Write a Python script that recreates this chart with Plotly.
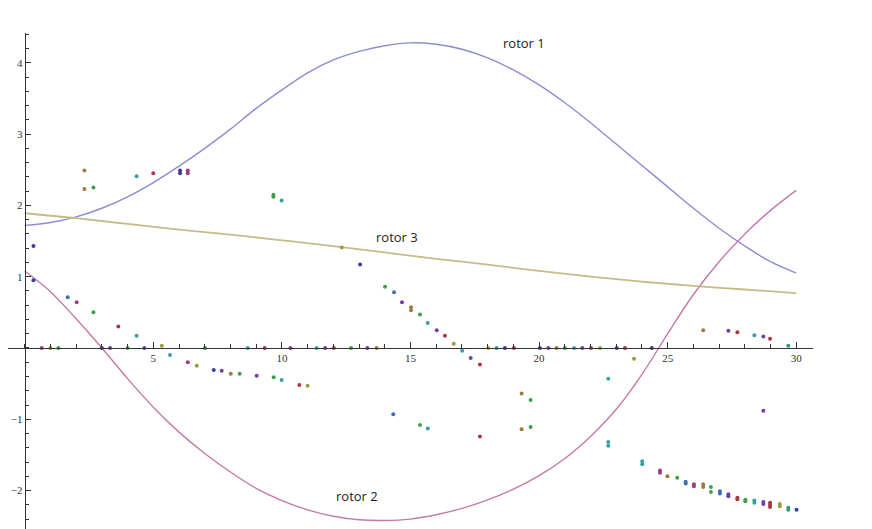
import plotly.graph_objects as go

# --- rotor angle curves (time in seconds, angle in radians) ---
t_curve = list(range(0, 31))
rotor1 = [1.72, 1.76, 1.84, 1.96, 2.12, 2.32, 2.55, 2.80, 3.07, 3.36, 3.62,
          3.86, 4.04, 4.16, 4.24, 4.28, 4.26, 4.19, 4.07, 3.90, 3.69,
          3.44, 3.16, 2.86, 2.56, 2.26, 1.96, 1.68, 1.43, 1.21, 1.05]
rotor2 = [1.08, 0.79, 0.41, 0.00, -0.43, -0.83, -1.18, -1.48, -1.74, -1.97, -2.14,
          -2.27, -2.36, -2.41, -2.42, -2.40, -2.34, -2.25, -2.13, -1.98, -1.79,
          -1.55, -1.24, -0.86, -0.37, 0.20, 0.75, 1.21, 1.60, 1.93, 2.21]
t_rotor3 = [0, 2, 4, 6, 8, 10, 12, 14, 16, 18, 20, 22, 24, 26, 28, 30]
rotor3 = [1.89, 1.82, 1.74, 1.66, 1.59, 1.51, 1.43, 1.34, 1.25, 1.17, 1.08,
          1.00, 0.93, 0.87, 0.82, 0.77]

# --- sampled measurements: time, angle, series group ---
dot_t = [0.34, 0.34, 0.66, 1.0, 1.31, 1.67, 2.02, 2.32, 2.32, 2.67, 2.67,
         3.0, 3.32, 3.64, 4.0, 4.35, 4.35, 4.65, 5.0, 5.33, 5.65,
         6.04, 6.04, 6.34, 6.34, 6.34, 6.69, 7.01, 7.35, 7.66, 8.01, 8.36, 8.67,
         9.02, 9.33, 9.67, 9.67, 9.68, 9.99, 9.99, 10.33, 10.68, 11.0, 11.35,
         11.68, 12.02, 12.33, 12.69, 13.04, 13.32, 13.68, 14.01, 14.33, 14.36,
         14.67, 15.02, 15.02, 15.37, 15.37, 15.67, 15.67, 16.02, 16.34, 16.68,
         17.01, 17.34, 17.7, 17.7, 18.02, 18.35, 18.67, 19.02, 19.32, 19.32,
         19.67, 19.67, 20.03, 20.36, 20.68, 21.0, 21.36, 21.68, 22.02, 22.37,
         22.69, 22.69, 22.69, 23.02, 23.34, 23.69, 24.01, 24.01, 24.38, 24.7,
         24.7, 24.99, 25.37, 25.7, 25.7, 26.02, 26.02, 26.38, 26.38, 26.38,
         26.68, 26.68, 27.03, 27.03, 27.36, 27.36, 27.36, 27.71, 27.71, 27.71,
         28.02, 28.02, 28.37, 28.37, 28.37, 28.72, 28.72, 28.72, 28.72, 28.98,
         28.98, 28.98, 28.98, 29.36, 29.36, 29.69, 29.69, 29.69, 30.01]
dot_y = [1.43, 0.95, 0.0, 0.0, 0.0, 0.71, 0.64, 2.49, 2.23, 2.25, 0.50,
         0.0, 0.0, 0.30, 0.0, 2.41, 0.17, 0.0, 2.45, 0.03, -0.10,
         2.45, 2.49, 2.45, 2.49, -0.20, -0.25, 0.0, -0.31, -0.32, -0.36, -0.36, 0.0,
         -0.39, 0.0, 2.12, 2.15, -0.41, 2.07, -0.45, 0.0, -0.52, -0.53, 0.0,
         0.0, 0.0, 1.41, 0.0, 1.17, 0.0, 0.0, 0.86, -0.93, 0.78,
         0.64, 0.53, 0.57, 0.47, -1.08, 0.35, -1.13, 0.25, 0.17, 0.06,
         -0.04, -0.14, -0.23, -1.24, 0.0, 0.0, 0.0, 0.0, -0.64, -1.14,
         -0.73, -1.11, 0.0, 0.0, 0.0, 0.0, 0.0, 0.0, 0.0, 0.0,
         -0.43, -1.32, -1.37, 0.0, 0.0, -0.15, -1.59, -1.63, 0.0, -1.72,
         -1.75, -1.80, -1.82, -1.875, -1.90, -1.91, -1.94, 0.25, -1.91, -1.95,
         -1.95, -2.02, -2.01, -2.04, 0.24, -2.05, -2.08, 0.22, -2.10, -2.12,
         -2.13, -2.15, 0.18, -2.14, -2.17, 0.16, -0.88, -2.16, -2.19, 0.13,
         -2.17, -2.20, -2.23, -2.19, -2.22, 0.03, -2.24, -2.27, -2.27]
dot_group = ["B", "B", "M", "O", "G", "B2", "M", "Br", "Br", "G", "G",
             "B", "P", "R", "G", "T", "T", "P", "R", "O", "T",
             "B", "B", "M", "M", "M", "O", "G", "B", "P", "Br", "G", "T",
             "P", "R", "G", "G", "G", "T", "T", "P", "R", "O", "T",
             "P", "R", "O", "G", "B", "P", "Br", "G", "B2", "B2",
             "P", "Br", "Br", "G", "G", "T", "T", "P", "R", "O",
             "T", "P", "R", "R", "O", "T", "B", "R", "Br", "Br",
             "G", "G", "B", "P", "Br", "G", "T", "P", "R", "O",
             "T", "T", "T", "B", "R", "O", "T", "T", "B", "M",
             "M", "Br", "G", "B2", "B2", "M", "M", "Br", "Br", "Br",
             "G", "G", "B2", "B2", "P", "P", "P", "R", "R", "R",
             "G", "G", "T", "T", "T", "P", "P", "P", "P", "R",
             "R", "R", "R", "O", "O", "G2", "G2", "G2", "B"]

x_ticks = [5, 10, 15, 20, 25, 30]
y_ticks = [-2, -1, 1, 2, 3, 4]

group_colors = {
    "B": "#3c3c9c", "B2": "#3f6fae", "M": "#a03c82", "R": "#a83848",
    "Br": "#a07840", "O": "#9c9c3c", "G": "#3ea048", "G2": "#2f9a78",
    "T": "#3aa0a6", "P": "#7040a8",
}

x_range = [-0.65, 30.65]
y_range = [-2.539, 4.418]
axis_color = "#333333"

fig = go.Figure()

fig.add_trace(go.Scatter(x=t_curve, y=rotor1, mode="lines", line_shape="spline",
                         line=dict(color="#8c8cd2", width=1.4), hoverinfo="skip"))
fig.add_trace(go.Scatter(x=t_curve, y=rotor2, mode="lines", line_shape="spline",
                         line=dict(color="#c47aa6", width=1.4), hoverinfo="skip"))
fig.add_trace(go.Scatter(x=t_rotor3, y=rotor3, mode="lines", line_shape="spline",
                         line=dict(color="#c4bc88", width=1.8), hoverinfo="skip"))

fig.add_trace(go.Scatter(
    x=dot_t, y=dot_y, mode="markers",
    marker=dict(size=4, color=[group_colors[g] for g in dot_group], line=dict(width=0)),
    hoverinfo="skip", cliponaxis=False))

tick_font = dict(family="Liberation Serif", size=11, color="#333333")
label_font = dict(family="Open Sans", size=13, color="#222222")

fig.update_layout(
    width=872, height=529,
    margin=dict(l=8, r=59, t=33, b=0),
    paper_bgcolor="white", plot_bgcolor="white",
    showlegend=False,
    xaxis=dict(
        range=x_range, anchor="free",
        position=(0 - y_range[0]) / (y_range[1] - y_range[0]),
        showgrid=False, zeroline=False, showline=True, linecolor=axis_color, linewidth=1,
        tickmode="array", tickvals=x_ticks, ticks="inside", ticklen=6, tickwidth=1,
        tickcolor=axis_color, tickfont=tick_font,
        minor=dict(tickmode="linear", tick0=0, dtick=1, ticks="inside", ticklen=3.5,
                   tickcolor=axis_color, showgrid=False),
    ),
    yaxis=dict(
        range=y_range, anchor="free",
        position=(0 - x_range[0]) / (x_range[1] - x_range[0]),
        showgrid=False, zeroline=False, showline=True, linecolor=axis_color, linewidth=1,
        tickmode="array", tickvals=y_ticks, ticks="inside", ticklen=5, tickwidth=1,
        tickcolor=axis_color, tickfont=tick_font,
        minor=dict(tickmode="linear", tick0=0, dtick=0.2, ticks="inside", ticklen=3,
                   tickcolor=axis_color, showgrid=False),
    ),
    annotations=[
        dict(x=1.68, y=4.63, xref="x", yref="y", text="angle (radians)", showarrow=False,
             font=label_font),
        dict(x=30.92, y=-0.477, xref="x", yref="y", text="time (seconds)", showarrow=False,
             font=label_font),
        dict(x=19.41, y=4.28, xref="x", yref="y", text="rotor 1", showarrow=False,
             font=label_font),
        dict(x=14.47, y=1.557, xref="x", yref="y", text="rotor 3", showarrow=False,
             font=label_font),
        dict(x=12.92, y=-2.076, xref="x", yref="y", text="rotor 2", showarrow=False,
             font=label_font),
    ],
)

fig.write_html("out.html")
